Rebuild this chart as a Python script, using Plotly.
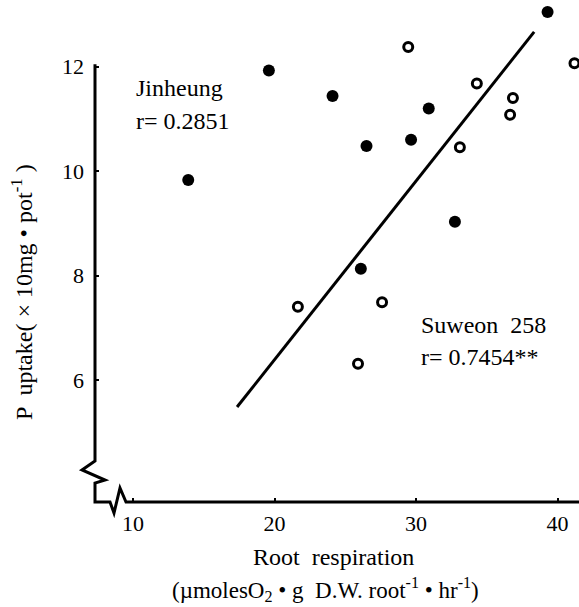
import plotly.graph_objects as go

# ---- data ----
jin_x = [13.9, 19.6, 24.1, 30.9, 29.65, 26.5, 32.75, 26.1, 39.3]
jin_y = [9.83, 11.93, 11.44, 11.2, 10.6, 10.48, 9.03, 8.13, 13.05]
suw_x = [29.45, 34.3, 41.2, 36.85, 36.65, 33.1, 27.6, 21.65, 25.9]
suw_y = [12.38, 11.68, 12.07, 11.4, 11.08, 10.46, 7.49, 7.4, 6.31]
fit_x = [17.35, 38.35]
fit_y = [5.48, 12.67]
x_ticks = [10, 20, 30, 40]
y_ticks = [6, 8, 10, 12]

# ---- layout constants ----
W, H = 579, 607
L, R, T, B = 95, 0, 0, 105
XR = [7.31, 41.52]
YR = [3.66, 13.28]
FONT = "Liberation Serif"
PW, PH = W - L - R, H - T - B


def px(xp):
    return (xp - L) / PW


def py(yp):
    return (H - B - yp) / PH


fig = go.Figure()
fig.add_trace(go.Scatter(x=fit_x, y=fit_y, mode="lines",
                         line=dict(color="black", width=3), showlegend=False,
                         cliponaxis=False))
fig.add_trace(go.Scatter(x=jin_x, y=jin_y, mode="markers", name="Jinheung",
                         marker=dict(size=12, color="black"), showlegend=False,
                         cliponaxis=False))
fig.add_trace(go.Scatter(x=suw_x, y=suw_y, mode="markers", name="Suweon 258",
                         marker=dict(size=9, color="white",
                                     line=dict(color="black", width=3)),
                         showlegend=False, cliponaxis=False))

# axis lines with break marks (decoration, in paper coords)
ytop = (12.05 - YR[0]) / (YR[1] - YR[0])
pts = [(px(95), ytop), (px(95), py(461)), (px(82), py(470)), (px(105), py(480)),
       (px(95), py(483)), (px(95), py(502)), (px(110), py(502)), (px(114), py(513)),
       (px(120), py(488)), (px(126), py(502)), (px(579), py(502))]
path = "M " + " L ".join(f"{a:.5f},{b:.5f}" for a, b in pts)
fig.add_shape(type="path", path=path, xref="paper", yref="paper",
              line=dict(color="black", width=3))

ann = [
    dict(text="Jinheung", x=px(134), y=py(88), xanchor="left", size=24),
    dict(text="r= 0.2851", x=px(134), y=py(121), xanchor="left", size=24),
    dict(text="Suweon  258", x=px(419), y=py(325), xanchor="left", size=24),
    dict(text="r= 0.7454**", x=px(419), y=py(357), xanchor="left", size=24),
    dict(text="Root  respiration", x=px(333), y=py(557), xanchor="center", size=24),
    dict(text="(\u00b5molesO<sub>2</sub> \u2022 g  D.W. root<sup>-1</sup> \u2022 hr<sup>-1</sup>)",
         x=px(325), y=py(589), xanchor="center", size=23),
]
for a in ann:
    fig.add_annotation(text=a["text"], x=a["x"], y=a["y"], xref="paper", yref="paper",
                       xanchor=a["xanchor"], yanchor="middle", showarrow=False,
                       font=dict(family=FONT, size=a["size"], color="black"))
fig.add_annotation(text="P  uptake( \u00d7 10mg \u2022 pot<sup>-1</sup> )",
                   x=px(22), y=py(292), xref="paper", yref="paper",
                   textangle=-90, showarrow=False, xanchor="center", yanchor="middle",
                   font=dict(family=FONT, size=24, color="black"))

fig.update_layout(
    width=W, height=H, margin=dict(l=L, r=R, t=T, b=B, pad=0),
    plot_bgcolor="white", paper_bgcolor="white",
    font=dict(family=FONT, size=22, color="black"),
    xaxis=dict(range=XR, tickvals=x_ticks, showgrid=False, zeroline=False,
               showline=False, ticks="inside", ticklen=4, tickwidth=2,
               tickcolor="black", ticklabelstandoff=6,
               tickfont=dict(family=FONT, size=22, color="black")),
    yaxis=dict(range=YR, tickvals=y_ticks, showgrid=False, zeroline=False,
               showline=False, ticks="inside", ticklen=4, tickwidth=2,
               tickcolor="black", ticklabelstandoff=10,
               tickfont=dict(family=FONT, size=22, color="black")),
)

fig.write_html("out.html")
